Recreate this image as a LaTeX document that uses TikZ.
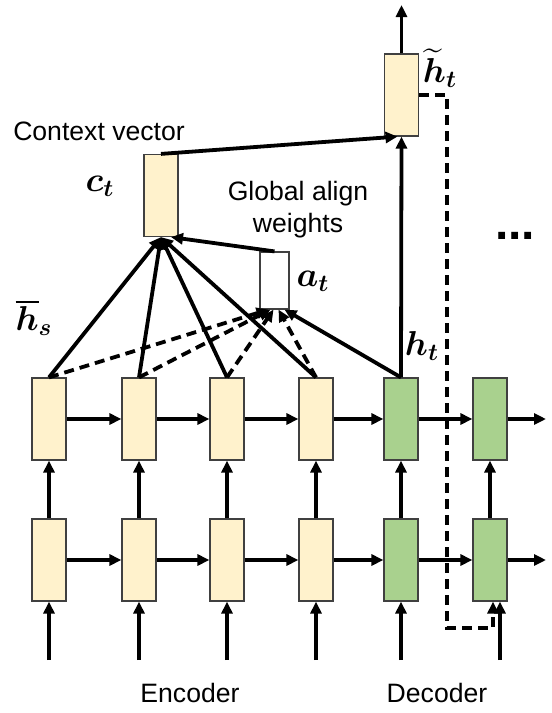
\documentclass[tikz,border=0pt]{standalone}
\usepackage{amsmath, amssymb, bm}
\usepackage{fontspec}
\setmainfont{Liberation Sans}
\usetikzlibrary{arrows.meta, positioning, calc}
\definecolor{encyellow}{RGB}{255, 242, 204}
\definecolor{decgreen}{RGB}{169, 209, 142}
\definecolor{boxedge}{RGB}{64, 64, 64}

\begin{document}
\begin{tikzpicture}[x=0.5pt, y=-0.5pt,
  cell/.style={draw=boxedge, line width=0.6pt, minimum width=17pt, minimum height=41pt, inner sep=0pt},
  arr/.style={line width=1.9pt, -{Triangle[length=6pt, width=5.5pt]}},
  darr/.style={arr, dash pattern=on 5pt off 3pt},
  lbl/.style={font=\fontsize{13.3}{16}\selectfont},
  sym/.style={font=\fontsize{17}{19}\selectfont}]

  \useasboundingbox (0,0) rectangle (552,713);

  % Two layers of recurrent cells: encoder (yellow), decoder (green)
  \foreach \i/\x/\col in {1/49/encyellow, 2/139/encyellow, 3/227/encyellow, 4/316/encyellow, 5/401/decgreen, 6/490/decgreen} {
    \node[cell, fill=\col] (top\i) at (\x,419) {};
    \node[cell, fill=\col] (bot\i) at (\x,560) {};
  }

  % Context vector, attentional state and align weights
  \node[cell, fill=encyellow] (ctx) at (161,195.5) {};
  \node[cell, fill=encyellow] (htil) at (401.5,95) {};
  \node[cell, fill=white, minimum width=14.5pt, minimum height=28.5pt] (align) at (274.5,280.5) {};

  % Labels
  \node[lbl] (ctxtxt) at (99,131) {Context vector};
  \node[lbl, align=center] (aligntxt) at (298,210) {Global align\\weights};
  \node[lbl] (enctxt) at (190,693) {Encoder};
  \node[lbl] (dectxt) at (437,693) {Decoder};
  \node[sym] (ctlbl) at (100,186) {$\bm{c_t}$};
  \node[sym] (atlbl) at (313,281) {$\bm{a_t}$};
  \node[sym] (htlbl) at (422,346) {$\bm{h_t}$};
  \node[sym] (hslbl) at (34,318) {$\overline{\bm{h}}_{\bm{s}}$};
  \node[sym] (htillbl) at (440,68) {$\widetilde{\bm{h}}_{\bm{t}}$};
  \node[font=\fontsize{24}{26}\selectfont\bfseries] (more) at (515,236) {...};

  % Recurrence along each layer
  \foreach \a/\b in {1/2, 2/3, 3/4, 4/5, 5/6} {
    \draw[arr] (top\a) -- (top\b);
    \draw[arr] (bot\a) -- (bot\b);
  }
  \coordinate (outT) at (546,419);
  \coordinate (outB) at (546,560);
  \draw[arr] (top6) -- (outT);
  \draw[arr] (bot6) -- (outB);

  % Inputs and layer-to-layer connections
  \foreach \i/\x in {1/49, 2/139, 3/227, 4/316, 5/401, 6/500} {
    \coordinate (in\i) at (\x,660);
    \draw[arr] (in\i) -- (in\i |- bot\i.south);
  }
  \foreach \i in {1,...,6}
    \draw[arr] (bot\i) -- (top\i);

  % Attention: source states to context vector and align weights
  \foreach \i in {1,...,4}
    \draw[arr] (top\i.north) -- (ctx.south);
  \draw[darr] (top1.north) -- ([xshift=-3pt]align.south);
  \draw[darr] (top2.north) -- ([xshift=-2pt]align.south);
  \draw[darr] (top3.north) -- ([xshift=-0.5pt]align.south);
  \draw[darr] (top4.north) -- ([xshift=2pt]align.south);
  \draw[arr] (top5.north) -- ([xshift=5pt]align.south);
  \draw[arr] (align.north) -- ([xshift=5pt]ctx.south);

  % Attentional hidden state
  \draw[arr] (top5.north) -- (htil.south);
  \draw[arr] (ctx.north) -- ([xshift=-2pt]htil.south);
  \coordinate (outH) at (401.5,5);
  \draw[arr] (htil.north) -- (outH);

  % Input feeding back into the next decoder step
  \coordinate (feed) at (447,628);
  \draw[darr] (htil.east) -| (feed) -| ([xshift=1.5pt]bot6.south);
\end{tikzpicture}
\end{document}
